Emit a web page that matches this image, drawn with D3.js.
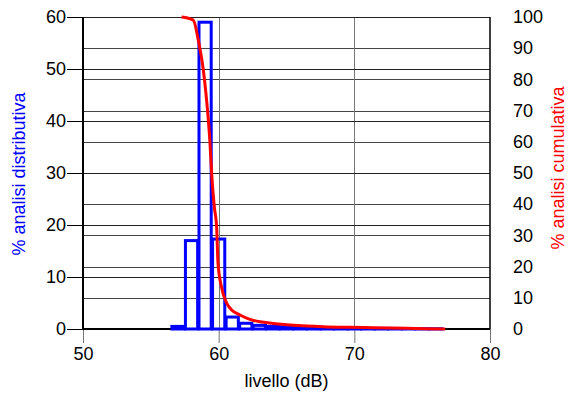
<!DOCTYPE html>
<html>
<head>
<meta charset="utf-8">
<script src="https://cdn.jsdelivr.net/npm/d3@7"></script>
<style>
  body { margin: 0; background: #fff; }
  text { font-family: "Liberation Sans", Arial, sans-serif; }
</style>
</head>
<body>
<svg width="568" height="393"></svg>
<script>
// histogram bins (dB, bin centre) and % of samples
const binLevels = [57, 58, 59, 60, 61, 62, 63, 64, 65, 66, 67, 68, 69, 70, 71, 72, 73, 74, 75, 76];
const distPct   = [0.5, 17, 59, 17.3, 2.3, 1.1, 0.7, 0.5, 0.4, 0.3, 0.25, 0.2, 0.2, 0.15, 0.1, 0.1, 0.1, 0.05, 0.05, 0.05];

// cumulative curve (% exceeding level)
const cumLevel = [57.27, 58.13, 58.5, 58.87, 59.05, 59.2, 59.36, 59.48, 59.68, 59.85, 59.95, 60.2, 60.59, 60.96, 61.57, 62.3, 63.04, 64.0, 65.25, 66.5, 67.7, 69.7, 71.4, 73.85, 76.7];
const cumPct   = [100, 99.0, 92.6, 83.0, 76.0, 69.0, 59.6, 50.0, 39.1, 32.7, 21.2, 13.6, 8.3, 6.1, 4.5, 3.1, 2.3, 1.8, 1.3, 0.96, 0.74, 0.54, 0.42, 0.22, 0];

const xTicks     = [50, 60, 70, 80];
const leftTicks  = [0, 10, 20, 30, 40, 50, 60];
const rightTicks = [0, 10, 20, 30, 40, 50, 60, 70, 80, 90, 100];

const svg = d3.select("svg");
const plot = {left: 83, right: 490, top: 17, bottom: 329};
const fontSize = 18;

const x  = d3.scaleLinear().domain([50, 80]).range([plot.left, plot.right]);
const yL = d3.scaleLinear().domain([0, 60]).range([plot.bottom, plot.top]);
const yR = d3.scaleLinear().domain([0, 100]).range([plot.bottom, plot.top]);

const grid = svg.append("g");

// right-axis grid lines
grid.selectAll("line.gr")
  .data(rightTicks.slice(1, -1))
  .enter().append("line")
  .attr("x1", plot.left).attr("x2", plot.right)
  .attr("y1", d => Math.round(yR(d)) + 0.5)
  .attr("y2", d => Math.round(yR(d)) + 0.5)
  .attr("stroke", "#444");

// vertical grid lines
grid.selectAll("line.gx")
  .data(xTicks.slice(1, -1))
  .enter().append("line")
  .attr("x1", d => Math.round(x(d)) + 0.5).attr("x2", d => Math.round(x(d)) + 0.5)
  .attr("y1", plot.top).attr("y2", plot.bottom)
  .attr("stroke", "#777");

// left axis with grid lines across
const axL = svg.append("g")
  .attr("transform", `translate(${plot.left},0)`)
  .call(d3.axisLeft(yL).tickValues(leftTicks).tickSizeOuter(0).tickSize(16).tickPadding(1));
axL.selectAll(".tick").append("line")
  .attr("x1", 0).attr("x2", plot.right - plot.left)
  .attr("stroke", "#222");

// bottom axis
const axB = svg.append("g")
  .attr("transform", `translate(0,${plot.bottom})`)
  .call(d3.axisBottom(x).tickValues(xTicks).tickSizeOuter(0).tickSize(14).tickPadding(4));
axB.selectAll(".tick line").attr("stroke", "#777");

// right axis (labels only)
const axR = svg.append("g")
  .attr("transform", `translate(${plot.right},0)`)
  .call(d3.axisRight(yR).tickValues(rightTicks).tickSizeOuter(0).tickSize(0).tickPadding(23));
axR.select(".domain").remove();

[axL, axB, axR].forEach(a => {
  a.selectAll("text").attr("font-size", fontSize).attr("fill", "#000")
    .attr("font-family", "'Liberation Sans', Arial, sans-serif");
});
axL.select(".domain").remove();
axB.select(".domain").remove();

// frame lines
svg.append("line").attr("x1", plot.left).attr("x2", plot.left).attr("y1", plot.top).attr("y2", plot.bottom)
  .attr("stroke", "#000").attr("stroke-width", 2);
svg.append("line").attr("x1", plot.right).attr("x2", plot.right).attr("y1", plot.top).attr("y2", plot.bottom)
  .attr("stroke", "#000").attr("stroke-width", 1.5);
svg.append("line").attr("x1", plot.left).attr("x2", plot.right).attr("y1", plot.bottom).attr("y2", plot.bottom)
  .attr("stroke", "#000").attr("stroke-width", 2);

// histogram bars
const bins = binLevels.map((l, i) => ({level: l, pct: distPct[i]}));
svg.append("g").selectAll("rect")
  .data(bins)
  .enter().append("rect")
  .attr("x", d => x(d.level - 0.45))
  .attr("width", d => x(d.level + 0.45) - x(d.level - 0.45))
  .attr("y", d => yL(d.pct))
  .attr("height", d => plot.bottom - yL(d.pct))
  .attr("fill", "none")
  .attr("stroke", "#0000ff")
  .attr("stroke-width", 3);

// cumulative curve
const cum = cumLevel.map((l, i) => [l, cumPct[i]]);
svg.append("path")
  .datum(cum)
  .attr("fill", "none")
  .attr("stroke", "#ff0000")
  .attr("stroke-width", 3)
  .attr("stroke-linejoin", "round")
  .attr("d", d3.line().x(d => x(d[0])).y(d => yR(d[1])).curve(d3.curveMonotoneX));

// axis titles
svg.append("text")
  .attr("x", (plot.left + plot.right) / 2).attr("y", 387)
  .attr("text-anchor", "middle").attr("font-size", fontSize)
  .text("livello (dB)");

svg.append("text")
  .attr("transform", `translate(25,174) rotate(-90)`)
  .attr("text-anchor", "middle").attr("font-size", fontSize).attr("fill", "#0000ff")
  .text("% analisi distributiva");

svg.append("text")
  .attr("transform", `translate(564,168) rotate(-90)`)
  .attr("text-anchor", "middle").attr("font-size", fontSize).attr("fill", "#ff0000")
  .text("% analisi cumulativa");
</script>
</body>
</html>
